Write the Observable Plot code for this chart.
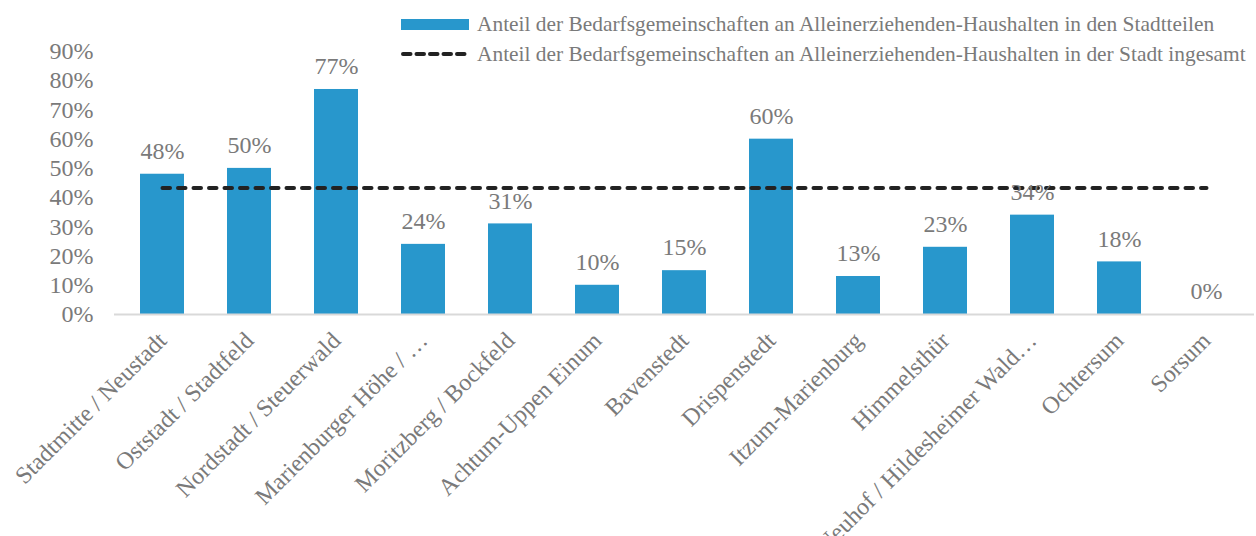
<!DOCTYPE html>
<html>
<head>
<meta charset="utf-8">
<script src="https://cdn.jsdelivr.net/npm/d3@7"></script>
<script src="https://cdn.jsdelivr.net/npm/@observablehq/plot@0.6"></script>
<style>
  body { margin: 0; background: #fff; }
  #wrap { position: relative; width: 1256px; height: 536px; overflow: hidden; font-family: "Liberation Serif", serif; }
  #legend { position: absolute; left: 401px; top: 9px; color: #7a7a7a; font-size: 21.4px; font-family: "Liberation Serif", serif; }
  .row { display: flex; align-items: center; height: 30px; white-space: nowrap; }
  .sw { width: 68px; height: 11px; background: #2897cc; margin-right: 8px; }
  .dl { width: 68px; margin-right: 8px; }
</style>
</head>
<body>
<div id="wrap">
  <div id="chart"></div>
  <div id="legend"></div>
</div>
<script>
const categories = [
  "Stadtmitte / Neustadt",
  "Oststadt / Stadtfeld",
  "Nordstadt / Steuerwald",
  "Marienburger Höhe / …",
  "Moritzberg / Bockfeld",
  "Achtum-Uppen Einum",
  "Bavenstedt",
  "Drispenstedt",
  "Itzum-Marienburg",
  "Himmelsthür",
  "Neuhof / Hildesheimer Wald…",
  "Ochtersum",
  "Sorsum"
];
const districtShare = [0.48, 0.50, 0.77, 0.24, 0.31, 0.10, 0.15, 0.60, 0.13, 0.23, 0.34, 0.18, 0.0];
const cityShare = 0.433;
const yTicks = [0, 0.1, 0.2, 0.3, 0.4, 0.5, 0.6, 0.7, 0.8, 0.9];
const seriesNames = [
  "Anteil der Bedarfsgemeinschaften an Alleinerziehenden-Haushalten in den Stadtteilen",
  "Anteil der Bedarfsgemeinschaften an Alleinerziehenden-Haushalten in der Stadt ingesamt"
];

const data = categories.map((c, i) => ({cat: c, value: districtShare[i], city: cityShare}));
const gray = "#7a7a7a";
const blue = "#2897cc";
const fmt = d3.format(".0%");

const chart = Plot.plot({
  width: 1256,
  height: 536,
  marginLeft: 114,
  marginRight: 2,
  marginTop: 51,
  marginBottom: 222,
  style: {fontFamily: "Liberation Serif, serif", background: "#fff"},
  x: {domain: categories, paddingInner: 0.5, paddingOuter: 0.25, label: null},
  y: {domain: [0, 0.9], label: null},
  marks: [
    Plot.barY(data, {x: "cat", y: "value", fill: blue}),
    Plot.ruleY([0], {stroke: "#d9d9d9", strokeWidth: 2}),
    Plot.lineY(data, {x: "cat", y: "city", stroke: "#222", strokeWidth: 4, strokeDasharray: "7.5,8", strokeLinecap: "round"}),
    Plot.text(data, {x: "cat", y: "value", text: d => fmt(d.value), dy: -23, fill: gray, fontSize: 24}),
    Plot.axisY(yTicks, {tickFormat: fmt, tickSize: 0, tickPadding: 21, fontSize: 24, color: gray, label: null}),
    Plot.axisX({tickRotate: -45, tickSize: 0, tickPadding: 22, fontSize: 24, color: gray, label: null})
  ]
});
document.getElementById("chart").appendChild(chart);

const legend = document.getElementById("legend");
legend.innerHTML = `
  <div class="row"><div class="sw"></div><span>${seriesNames[0]}</span></div>
  <div class="row"><svg class="dl" width="68" height="6"><line x1="2" y1="3" x2="66" y2="3" stroke="#222" stroke-width="4" stroke-dasharray="7.5,6" stroke-linecap="round"/></svg><span>${seriesNames[1]}</span></div>
`;
</script>
</body>
</html>
